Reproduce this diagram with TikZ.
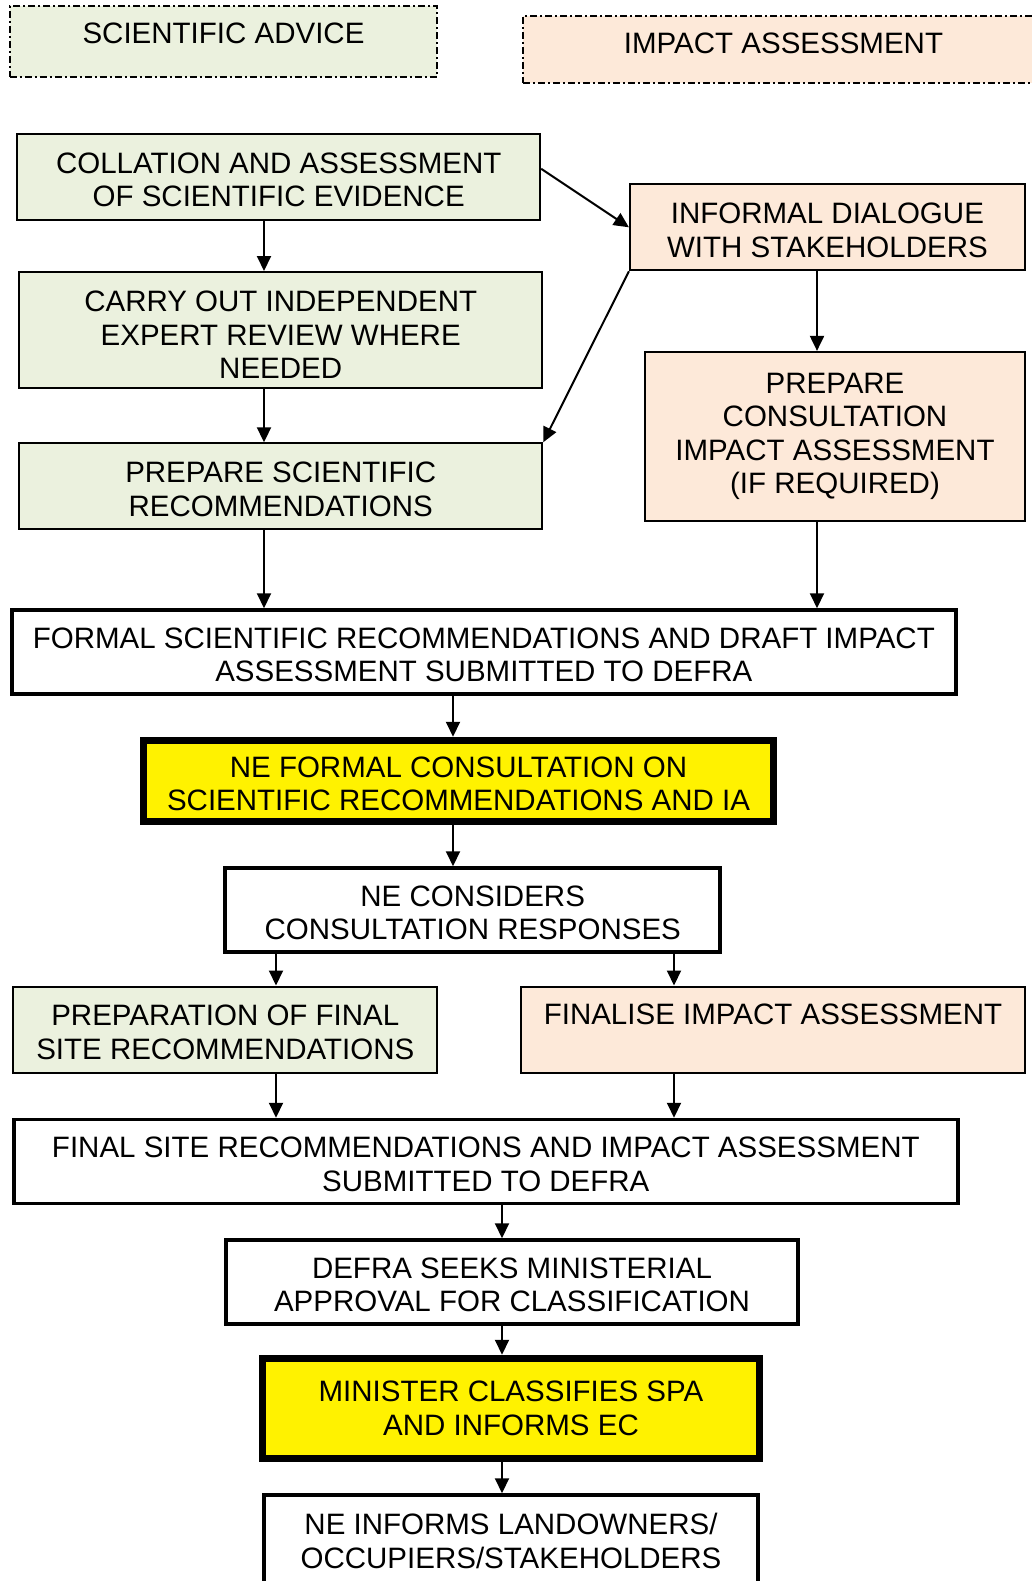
\documentclass[tikz,border=0pt]{standalone}
\usepackage{fontspec}
\setmainfont{Liberation Sans}
\usetikzlibrary{arrows.meta}
\definecolor{sciGreen}{HTML}{EBF1DE}
\definecolor{iaPeach}{HTML}{FDE9D9}
\tikzset{
  box/.style={draw, line width=2pt, align=center, inner sep=0pt,
    font=\fontsize{29.5}{33.5}\selectfont},
  twoline/.style={text height=60pt},
  sci/.style={box, fill=sciGreen},
  ia/.style={box, fill=iaPeach},
  formalbox/.style={box, fill=white, line width=3.5pt},
  keybox/.style={box, fill=yellow, line width=7.5pt},
  legend/.style={box, line width=1.5pt, dash pattern=on 7pt off 3pt on 2pt off 3pt, text height=37.7pt},
  arr/.style={line width=2pt, -{Triangle[length=15pt,width=14pt]}}
}
\begin{document}
\begin{tikzpicture}[x=1pt,y=-1pt]
\useasboundingbox (0,0) rectangle (1032,1581);
\clip (0,0) rectangle (1032,1581);
\node[legend, fill=sciGreen, minimum width=427pt, minimum height=71pt, text depth=33.3pt] (sciKey) at (223.5,41.5) {SCIENTIFIC ADVICE};
\node[legend, fill=iaPeach, minimum width=521pt, minimum height=67pt, text depth=29.3pt] (iaKey) at (783.5,49.5) {IMPACT ASSESSMENT};

\node[sci, twoline, minimum width=523pt, minimum height=86pt] (collation) at (278.7,176.8) {COLLATION AND ASSESSMENT\\OF SCIENTIFIC EVIDENCE};
\node[ia, twoline, minimum width=395pt, minimum height=86pt] (dialogue) at (827.4,227.3) {INFORMAL DIALOGUE\\WITH STAKEHOLDERS};
\node[sci, text height=97.5pt, minimum width=523pt, minimum height=116pt] (review) at (280.7,330) {CARRY OUT INDEPENDENT\\EXPERT REVIEW WHERE\\NEEDED};
\node[sci, twoline, minimum width=523pt, minimum height=86pt] (scirec) at (280.7,486.3) {PREPARE SCIENTIFIC\\RECOMMENDATIONS};
\node[ia, minimum width=380pt, minimum height=169pt] (consultia) at (835,436.4) {PREPARE\\CONSULTATION\\IMPACT ASSESSMENT\\(IF REQUIRED)};
\node[formalbox, twoline, minimum width=944pt, minimum height=84pt] (formal) at (483.8,652) {FORMAL SCIENTIFIC RECOMMENDATIONS AND DRAFT IMPACT\\ASSESSMENT SUBMITTED TO DEFRA};
\node[keybox, twoline, minimum width=630pt, minimum height=81pt] (consult) at (458.5,781) {NE FORMAL CONSULTATION ON\\SCIENTIFIC RECOMMENDATIONS AND IA};
\node[formalbox, twoline, minimum width=495pt, minimum height=84pt] (responses) at (472.7,910) {NE CONSIDERS\\CONSULTATION RESPONSES};
\node[sci, twoline, minimum width=424pt, minimum height=86pt] (siterec) at (225.3,1029.5) {PREPARATION OF FINAL\\SITE RECOMMENDATIONS};
\node[ia, minimum width=504pt, minimum height=86pt, text height=37.5pt, text depth=48.5pt] (finalia) at (773,1029.5) {FINALISE IMPACT ASSESSMENT};
\node[formalbox, twoline, minimum width=944pt, minimum height=84pt] (submitted) at (485.8,1161.5) {FINAL SITE RECOMMENDATIONS AND IMPACT ASSESSMENT\\SUBMITTED TO DEFRA};
\node[formalbox, twoline, minimum width=572pt, minimum height=84pt] (approval) at (512,1282) {DEFRA SEEKS MINISTERIAL\\APPROVAL FOR CLASSIFICATION};
\node[keybox, minimum width=497pt, minimum height=100pt] (classify) at (511,1408.5) {MINISTER CLASSIFIES SPA\\AND INFORMS EC};
\node[formalbox, minimum width=494pt, minimum height=92pt] (inform) at (511,1541) {NE INFORMS LANDOWNERS/\\OCCUPIERS/STAKEHOLDERS};

\coordinate (sciCol) at (264,0);
\coordinate (iaCol) at (817,0);
\coordinate (midCol) at (453,0);
\coordinate (siteCol) at (276,0);
\coordinate (finCol) at (674,0);
\coordinate (endCol) at (502,0);

\draw[arr] (collation.south -| sciCol) -- (review.north -| sciCol);
\draw[arr] (review.south -| sciCol) -- (scirec.north -| sciCol);
\draw[arr] (scirec.south -| sciCol) -- (formal.north -| sciCol);
\draw[arr] ([yshift=8pt]collation.east) -- (dialogue.west);
\draw[arr] (dialogue.south west) -- (scirec.north east);
\draw[arr] (dialogue.south -| iaCol) -- (consultia.north -| iaCol);
\draw[arr] (consultia.south -| iaCol) -- (formal.north -| iaCol);
\draw[arr] (formal.south -| midCol) -- (consult.north -| midCol);
\draw[arr] (consult.south -| midCol) -- (responses.north -| midCol);
\draw[arr] (responses.south -| siteCol) -- (siterec.north -| siteCol);
\draw[arr] (responses.south -| finCol) -- (finalia.north -| finCol);
\draw[arr] (siterec.south -| siteCol) -- (submitted.north -| siteCol);
\draw[arr] (finalia.south -| finCol) -- (submitted.north -| finCol);
\draw[arr] (submitted.south -| endCol) -- (approval.north -| endCol);
\draw[arr] (approval.south -| endCol) -- (classify.north -| endCol);
\draw[arr] (classify.south -| endCol) -- (inform.north -| endCol);
\end{tikzpicture}
\end{document}
